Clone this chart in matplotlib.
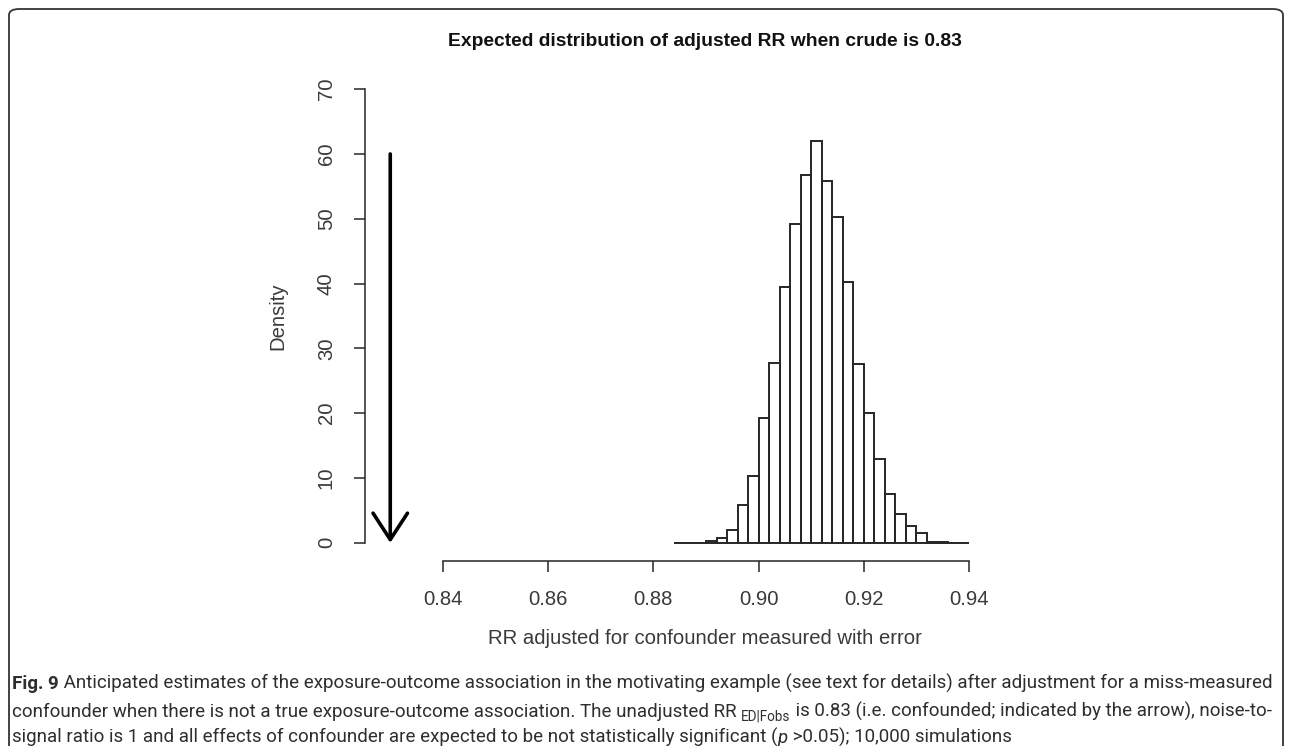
import matplotlib
matplotlib.use("Agg")
import matplotlib.pyplot as plt
from matplotlib.patches import FancyBboxPatch

# ---- data -------------------------------------------------------------
bin_left = [0.884, 0.886, 0.888, 0.890, 0.892, 0.894, 0.896, 0.898, 0.900,
            0.902, 0.904, 0.906, 0.908, 0.910, 0.912, 0.914, 0.916, 0.918,
            0.920, 0.922, 0.924, 0.926, 0.928, 0.930, 0.932, 0.934, 0.936,
            0.938]
bin_width = 0.002
density = [0.05, 0.0, 0.05, 0.35, 0.75, 2.05, 5.8, 10.3, 19.3,
           27.7, 39.4, 49.2, 56.7, 62.0, 55.8, 50.2, 40.3, 27.6,
           20.0, 13.0, 7.6, 4.4, 2.6, 1.5, 0.15, 0.1, 0.0,
           0.05]
crude_rr = 0.83
arrow_top = 60
x_ticks = [0.84, 0.86, 0.88, 0.90, 0.92, 0.94]
x_ticklabels = ["0.84", "0.86", "0.88", "0.90", "0.92", "0.94"]
y_ticks = [0, 10, 20, 30, 40, 50, 60, 70]

title = "Expected distribution of adjusted RR when crude is 0.83"
xlabel = "RR adjusted for confounder measured with error"
ylabel = "Density"

caption_lines = [
    [("Fig. 9", "bold"),
     (" Anticipated estimates of the exposure-outcome association in the "
      "motivating example (see text for details) after adjustment for a "
      "miss-measured", "normal")],
    [("confounder when there is not a true exposure-outcome association. "
      "The unadjusted RR ", "normal"),
     ("ED|Fobs", "sub"),
     (" is 0.83 (i.e. confounded; indicated by the arrow), noise-to-", "normal")],
    [("signal ratio is 1 and all effects of confounder are expected to be "
      "not statistically significant (", "normal"),
     ("p", "italic"),
     (" >0.05); 10,000 simulations", "normal")],
]

# ---- figure -----------------------------------------------------------
W, H = 1292, 746
fig = plt.figure(figsize=(W / 100, H / 100), dpi=100)
fig.patch.set_facecolor("white")

plot_font = ["Liberation Sans", "DejaVu Sans"]
cap_font = ["Liberation Sans Narrow", "Roboto", "DejaVu Sans"]
ink = "#262626"
label_size = 14.6


def px_x(x):
    return x / W


def px_y(y):
    return 1 - y / H


# plot region in pixels (left, top, right, bottom)
L, T, R, B = 365, 71, 1047, 561
ax = fig.add_axes([px_x(L), px_y(B), (R - L) / W, (B - T) / H])
ax.set_xlim(0.8252, 0.9548)
ax.set_ylim(-2.8, 72.8)

ax.bar(bin_left, density, width=bin_width, align="edge", fill=False,
       edgecolor=ink, linewidth=1.4)

ax.annotate("", xy=(crude_rr, 0), xytext=(crude_rr, arrow_top),
            arrowprops=dict(arrowstyle="->,head_length=0.95,head_width=0.62",
                            mutation_scale=20, lw=2.6, color="black",
                            shrinkA=0, shrinkB=0))

for side in ("top", "right"):
    ax.spines[side].set_visible(False)
for side in ("left", "bottom"):
    ax.spines[side].set_color(ink)
    ax.spines[side].set_linewidth(1.1)
ax.spines["left"].set_bounds(y_ticks[0], y_ticks[-1])
ax.spines["bottom"].set_bounds(x_ticks[0], x_ticks[-1])

ax.set_xticks(x_ticks)
ax.set_xticklabels(x_ticklabels)
ax.set_yticks(y_ticks)
ax.tick_params(direction="out", length=8, width=1.1, color=ink,
               labelcolor="#3a3a3a", labelsize=label_size)
ax.tick_params(axis="x", pad=13)
ax.tick_params(axis="y", pad=13, labelrotation=90)
for lab in ax.get_yticklabels():
    lab.set_va("center")
for lab in ax.get_xticklabels() + ax.get_yticklabels():
    lab.set_family(plot_font)

fig.text(px_x(705), px_y(41), title, ha="center", va="center",
         fontsize=13.9, fontweight="bold", family=plot_font, color="#111111")
fig.text(px_x(705), px_y(638), xlabel, ha="center", va="center",
         fontsize=label_size, family=plot_font, color="#3a3a3a")
fig.text(px_x(278), px_y(316), ylabel, ha="center", va="center",
         rotation=90, fontsize=label_size, family=plot_font, color="#3a3a3a")

# ---- caption ----------------------------------------------------------
renderer = fig.canvas.get_renderer()


def seg_props(kind, size):
    if kind == "bold":
        return dict(fontsize=size, fontweight="bold", fontstyle="normal"), 0
    if kind == "italic":
        return dict(fontsize=size, fontweight="normal", fontstyle="italic"), 0
    if kind == "sub":
        return dict(fontsize=size * 0.72, fontweight="normal",
                    fontstyle="normal"), 4
    return dict(fontsize=size, fontweight="normal", fontstyle="normal"), 0


def line_width(segs, size):
    total = 0
    for s, kind in segs:
        p, _ = seg_props(kind, size)
        t = fig.text(0, 0, s, family=cap_font, **p)
        total += t.get_window_extent(renderer).width
        t.remove()
    return total


base = 10.0
cap_size = base * 1266 / line_width(caption_lines[0], base)

cap_x0 = 12
for segs, yb in zip(caption_lines, [689, 717, 743]):
    x = cap_x0
    for s, kind in segs:
        p, dy = seg_props(kind, cap_size)
        t = fig.text(px_x(x), px_y(yb + dy), s, ha="left", va="baseline",
                     family=cap_font, color="#2e2e2e", **p)
        x += t.get_window_extent(renderer).width

# ---- rounded frame ----------------------------------------------------
frame = FancyBboxPatch((px_x(9), px_y(780)), (1283 - 9) / W, (780 - 9) / H,
                       boxstyle="round,pad=0,rounding_size=0.008",
                       transform=fig.transFigure, fill=False,
                       edgecolor="#333333", linewidth=1.3, clip_on=False)
fig.patches.append(frame)

fig.savefig("out.png", dpi=100, facecolor="white")
